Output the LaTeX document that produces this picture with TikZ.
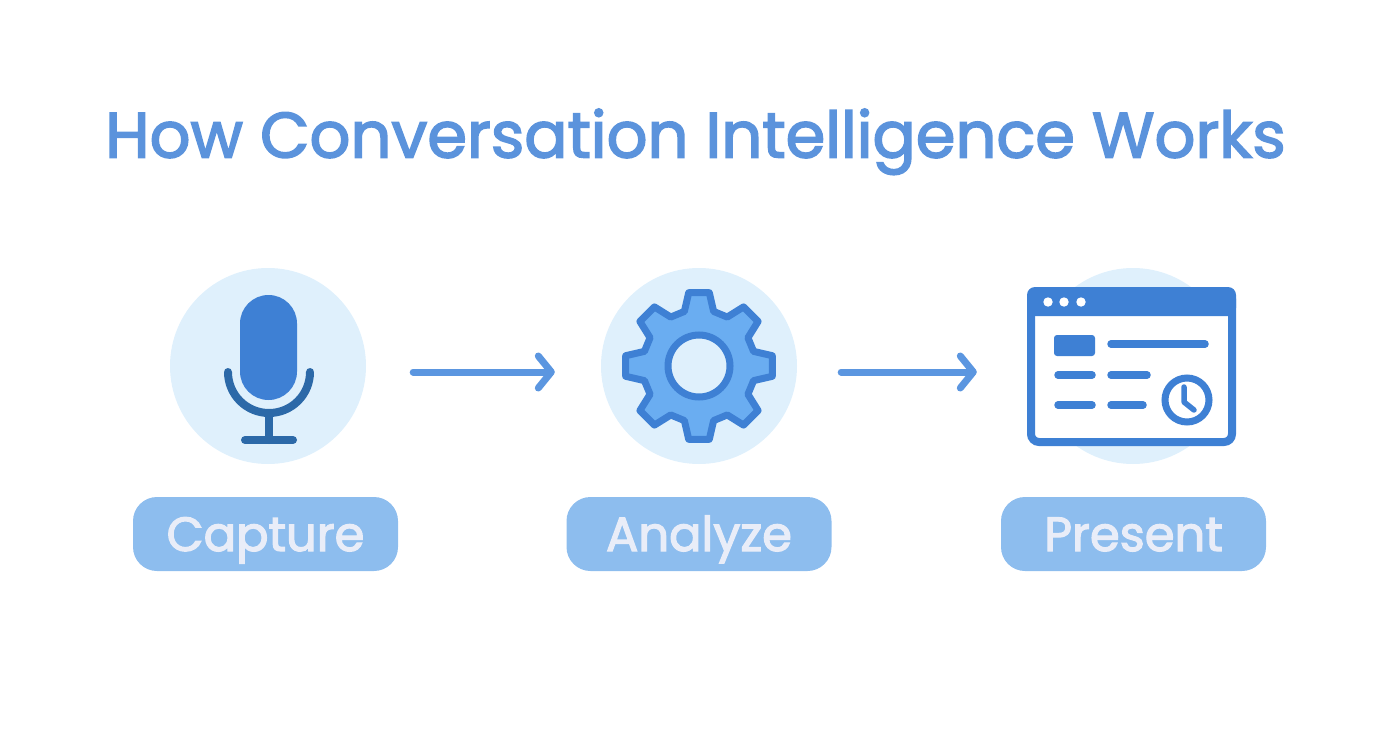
\documentclass[tikz,border=0pt]{standalone}
\usepackage{fontspec}
\setmainfont[FakeBold=2.5]{Poppins}
\usetikzlibrary{arrows.meta}
\usetikzlibrary{positioning}
\definecolor{titleblue}{HTML}{5B93DC}
\definecolor{discblue}{HTML}{DFF0FC}
\definecolor{pillblue}{HTML}{8DBDEE}
\definecolor{pilltext}{HTML}{E9EDF8}
\definecolor{iconblue}{HTML}{3E80D4}
\definecolor{standblue}{HTML}{2C69A8}
\definecolor{gearblue}{HTML}{6AADF1}
\definecolor{flowblue}{HTML}{5B96E0}
\tikzset{
    disc/.style = {circle,fill=discblue,minimum size=196pt,inner sep=0},
    pill/.style = {rounded corners=24pt,fill=pillblue,text=pilltext,minimum width=265pt,minimum height=74pt,inner sep=0,text height=34pt,text depth=0pt,font=\fontsize{48}{48}\selectfont},
    flow/.style = {line width=7pt,draw=flowblue,line cap=round,-{Straight Barb[length=13pt,width=32pt,line cap=round,line join=round]}},
    stand/.style = {line width=8pt,draw=standblue,line cap=round},
    rowbar/.style = {line width=7.5pt,draw=iconblue,line cap=round}
}
\begin{document}
\begin{tikzpicture}[x=1pt,y=-1pt]
    \useasboundingbox (0,0) rectangle (1392,752);
    % Title
    \node[text=titleblue,font=\fontsize{64}{64}\selectfont,inner sep=0,anchor=base] (title) at (695.5,157.5) {How Conversation Intelligence Works};
    % Discs
    \node[disc] (capdisc) at (268,366) {};
    \node[disc] (anadisc) at (699,366) {};
    \node[disc] (predisc) at (1133,366) {};
    % Labels
    \node[pill] (capture) at (265.5,534) {Capture};
    \node[pill] (analyze) at (699,534) {Analyze};
    \node[pill] (present) at (1133.5,534) {Present};
    % Microphone
    \fill[iconblue,rounded corners=28.5pt] (240,295) rectangle (297,400);
    \draw[stand] (228,372) arc[start angle=180,end angle=0,radius=41];
    \draw[stand] (269,413) -- (269,440);
    \draw[stand] (245,440) -- (293,440);
    % Gear
    \draw[shift={(699,366)},line width=7pt,draw=iconblue,fill=gearblue,line join=round]
        (120:56.5) \foreach \a in {-225,-180,-135,-90,-45,0,45,90} {
            -- (\a-15:56.5) -- (\a-8:74) -- (\a+8:74) -- (\a+15:56.5)
        } -- cycle;
    \draw[line width=7pt,draw=iconblue,fill=discblue] (699,366) circle (31);
    % Window
    \draw[line width=8pt,draw=iconblue,fill=white,rounded corners=8pt] (1031,291) rectangle (1232,442);
    \fill[iconblue,rounded corners=8pt] (1027,287) rectangle (1236,316);
    \foreach \x in {1048,1064,1081}
        \fill[white] (\x,302) circle (4.7);
    \fill[iconblue,rounded corners=3pt] (1054,335) rectangle (1095,356);
    \draw[rowbar] (1111,344) -- (1205,344);
    \draw[rowbar] (1058,375) -- (1092,375);
    \draw[rowbar] (1111,375) -- (1147,375);
    \draw[rowbar] (1058,405) -- (1092,405);
    \draw[rowbar] (1111,405) -- (1143,405);
    % Clock
    \draw[line width=7pt,draw=iconblue,fill=white] (1187,400) circle (22);
    \draw[line width=5.5pt,draw=iconblue,line cap=round,line join=round] (1184,387) -- (1184,402) -- (1194,410);
    % Flow
    \draw[flow] ([shift={(47,6)}]capdisc.east) -- ([shift={(-46,6)}]anadisc.west);
    \draw[flow] ([shift={(44,6)}]anadisc.east) -- ([shift={(-58,6)}]predisc.west);
\end{tikzpicture}
\end{document}
